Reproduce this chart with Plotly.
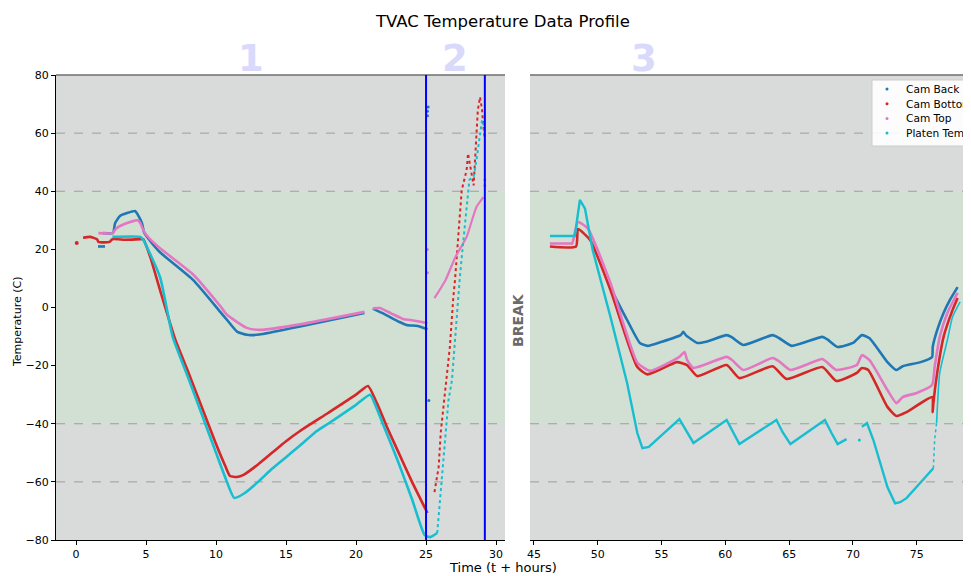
import plotly.graph_objects as go

# ---------------- data ----------------
series_names = ["Cam Back", "Cam Bottom", "Cam Top", "Platen Temp"]
series_colors = ["#1f77b4", "#d62728", "#e377c2", "#17becf"]
phase_labels = ["1", "2", "3"]
phase_label_x = [12.5, 27.1, 53.6]
phase_boundaries = [25.0, 29.2]
band_limits = [-40, 40]
dashed_levels = [60, 40, -40, -60]
left_ticks = [0, 5, 10, 15, 20, 25, 30]
right_ticks = [45, 50, 55, 60, 65, 70, 75]
y_ticks = [-80, -60, -40, -20, 0, 20, 40, 60, 80]

# Cam Back (left segment, hours 0-31)
back_left_x = [1.57, 2.07, None, 1.93, 2.64, 2.79, 3.14, 3.64, 4.21, 4.43, 4.71, 4.85, 5.2, 6.0, 8.36,
               10.3, 10.79, 11.5, 12.2, 13.1, 16.0, 20.6, None, 21.2, 22.0, 23.1, 23.6, 24.4, 25.1]
back_left_y = [21, 21, None, 25.6, 25.6, 29, 31.5, 32.5, 33.2, 31.8, 29, 26, 23.5, 19, 9.5,
               -1.5, -4.3, -8.3, -9.4, -9.3, -6.5, -1.9, None, -0.4, -2.2, -5, -6, -6.4, -7.5]
back_pts_x = [25.1, 25.1, 25.15, 25.2]
back_pts_y = [66, 67.5, 69, -32]
# Cam Back (right segment)
back_right_x = [51.0, 52.3, 53.3, 53.9, 55.0, 56.5, 56.7, 56.9, 57.8, 58.5, 60.1, 60.5, 61.4, 63.7,
                64.2, 65.2, 67.6, 68.0, 68.8, 70.0, 70.7, 71.3, 72.7, 73.4, 73.9, 75.3, 76.2, 76.25,
                76.6, 77.1, 77.6, 78.2]
back_right_y = [6.7, -4.3, -12.2, -13.2, -11.8, -9.5, -8.4, -9.5, -12.2, -11.8, -9.5, -10.2, -12.9, -9.5,
                -10.5, -13.2, -10.1, -11, -13.6, -12.2, -9.5, -10.6, -18.8, -21.5, -20.2, -18.8, -17, -13.6,
                -7.8, -1.9, 2.6, 7]

# Cam Bottom
bottom_pts_x = [0.05]
bottom_pts_y = [22.2]
bottom_left_x = [0.5, 1.0, 1.5, 1.6, 2.0, 2.4, 2.6, 3.5, 4.6, 4.8, 5.3, 6.0, 7.1, 8.0, 9.0, 10.0, 10.7,
                 11.0, 11.5, 12.0, 13.0, 14.0, 15.0, 16.0, 18.0, 20.0, 20.85, 21.5, 22.2, 23.0, 24.0, 25.1]
bottom_left_y = [24, 24.3, 23.5, 22.6, 22.4, 22.6, 23.5, 23.3, 23.5, 23.5, 17.4, 6, -11.2, -22, -34.5, -47,
                 -55, -58, -58.3, -57.5, -54, -50, -46, -42.5, -36.3, -30, -27, -33, -41, -49.5, -60, -70.7]
bottom_ramp_x = [25.6, 25.9, 26.05, 26.45, 26.7, 26.95, 27.07, 27.55, 27.9, 28.0, 28.3, 28.4, 28.5,
                 28.7, 28.86, 29.0, 29.1, 29.2]
bottom_ramp_y = [-63.5, -55, -43, -25, -13.6, 3.6, 9.5, 40.4, 47.3, 53, 44, 42, 50.7, 68, 72.4, 68, 62, 58]
bottom_right_x = [46.25, 48.3, 48.45, 49.4, 51.0, 53.1, 53.9, 56.2, 57.0, 57.8, 60.1, 61.1, 63.7, 64.8,
                  67.6, 68.7, 70.3, 70.7, 71.2, 72.7, 73.4, 74.2, 76.2, 76.25, 76.3, 76.6, 77.1, 77.8, 78.2]
bottom_right_y = [21, 21, 27, 23.2, 6, -20.5, -23, -18.8, -19.8, -23.6, -19.8, -24.3, -20.2, -24.6,
                  -20.5, -25.3, -22.5, -20.8, -21.5, -34.2, -37.3, -36, -30.8, -36, -33, -22.5, -10.1, -0.9, 3.3]

# Cam Top
top_left_x = [1.6, 2.6, 2.9, 3.6, 4.4, 4.6, 4.85, 5.2, 6.0, 8.4, 10.3, 10.8, 12.2, 13.1, 16.0, 20.6, None,
              21.2, 21.7, 22.5, 23.4, 23.9, 24.5, 25.1]
top_left_y = [25.6, 25.6, 27.3, 29, 30, 29, 26.2, 24, 20.4, 11.2, 0.5, -2.6, -7, -7.7, -5.8, -1.5, None,
              -0.3, -0.2, -2, -4, -4.3, -4.8, -5.4]
top_ramp_x = [25.6, 26.4, 27.1, 27.9, 28.6, 29.1]
top_ramp_y = [3.2, 9.5, 17.4, 24.3, 34.6, 38]
top_pts_x = [25.1, 25.1, 29.2, 29.2]
top_pts_y = [12, 20, 42, 44]
top_right_x = [46.25, 47.9, 48.0, 48.45, 49.2, 51.0, 53.1, 54.1, 56.4, 56.8, 57.0, 57.5, 60.1, 60.5,
               61.4, 63.7, 64.2, 65.1, 67.6, 68.0, 68.7, 70.3, 70.7, 71.3, 72.7, 73.4, 73.9, 75.0,
               76.2, 76.4, 76.8, 77.4, 78.2]
top_right_y = [22, 22, 22, 29.4, 27.3, 8.4, -19, -21.8, -17, -15.3, -18, -20.8, -17, -18,
               -21.5, -17.4, -18.5, -21.5, -17.7, -19, -21.5, -19.8, -16.4, -18.1, -28.4, -32.9, -30.8, -29.4,
               -26.7, -20.5, -10.1, -1.9, 5]

# Platen Temp
platen_left_x = [2.6, 4.6, 4.8, 6.0, 6.9, 8.0, 9.0, 10.0, 10.7, 11.3, 12.0, 13.0, 14.0, 15.0, 16.0,
                 17.2, 18.0, 19.0, 20.0, 21.0, 21.5, 22.0, 23.0, 24.0, 24.9, 25.3, 25.8]
platen_left_y = [24.3, 24.3, 23.3, 10.5, -10, -24, -37, -50, -59, -65.5, -64, -60, -55.5, -51.5, -47.5,
                 -42.5, -40, -36.8, -33.5, -30, -35, -41, -53, -66, -78.3, -79, -77.6]
platen_ramp_x = [25.8, 26.0, 26.2, 26.4, 26.6, 26.85, 27.2, 27.4, 27.6, 27.9, 28.1, 28.4, 28.6, 29.0, 29.1, 29.2]
platen_ramp_y = [-77.6, -66, -55, -43, -32, -25, -2, 9.5, 19.8, 33.5, 44, 45, 50.7, 64.5, 63.5, 58.7]
platen_right_x = [46.25, 48.2, 48.6, 49.0, 49.6, 51.0, 52.3, 53.1, 53.5, 54.0, 56.4, 57.0, 57.5, 60.1,
                  60.6, 61.1, 64.0, 64.5, 65.1, 67.8, 68.3, 68.8, 69.5, None, 70.7, 71.1, 71.6, 72.7,
                  73.3, 73.7, 74.2, 76.3]
platen_right_y = [24.6, 24.6, 37, 34, 19.8, -3.3, -26, -43.2, -48.4, -48, -38.4, -43, -46.6, -38.7,
                  -43, -47, -38.7, -43, -47, -38.7, -43, -47, -45.3, None, -41, -39.8, -45.6, -61.8,
                  -67.4, -67, -65.6, -55.3]
platen_pts_x = [70.5]
platen_pts_y = [-45.6]
platen_ramp2_x = [76.3, 76.4, 76.55]
platen_ramp2_y = [-55.3, -45.6, -39.8]
platen_rise_x = [76.55, 76.8, 77.4, 77.8, 78.4]
platen_rise_y = [-39.8, -22.5, -11.2, -3.3, 1.9]

# ---------------- figure ----------------
# the page body has an 8px margin, so the figure is drawn 8px in from the window corner
OFF = 8
W, H = 971 - OFF, 576 - OFF
FONT = "DejaVu Sans"


def PX(p):
    return (p - OFF) / W


def PY(p):
    return 1 - (p - OFF) / H


fig = go.Figure()
C = dict(zip(series_names, series_colors))


def line(x, y, color, axis, width=2.6, dash=None, smooth=True):
    ln = dict(color=color, width=width, dash=dash)
    if smooth:
        ln.update(shape="spline", smoothing=0.5)
    fig.add_trace(go.Scatter(x=x, y=y, mode="lines", xaxis=axis[0], yaxis=axis[1], line=ln,
                             showlegend=False, hoverinfo="skip", connectgaps=False))


def pts(x, y, color, axis, size=3):
    fig.add_trace(go.Scatter(x=x, y=y, mode="markers", xaxis=axis[0], yaxis=axis[1],
                             marker=dict(color=color, size=size), showlegend=False, hoverinfo="skip"))


L = ("x", "y")
R = ("x3", "y3")

# Cam Back
line(back_left_x, back_left_y, C["Cam Back"], L)
pts(back_pts_x, back_pts_y, C["Cam Back"], L)
line(back_right_x, back_right_y, C["Cam Back"], R)
# Cam Bottom
pts(bottom_pts_x, bottom_pts_y, C["Cam Bottom"], L, 4)
line(bottom_left_x, bottom_left_y, C["Cam Bottom"], L)
line(bottom_ramp_x, bottom_ramp_y, C["Cam Bottom"], L, 2, "dot", False)
line(bottom_right_x, bottom_right_y, C["Cam Bottom"], R)
# Cam Top
line(top_left_x, top_left_y, C["Cam Top"], L)
line(top_ramp_x, top_ramp_y, C["Cam Top"], L, 2.2)
pts(top_pts_x, top_pts_y, C["Cam Top"], L)
line(top_right_x, top_right_y, C["Cam Top"], R)
# Platen
line(platen_left_x, platen_left_y, C["Platen Temp"], L)
line(platen_ramp_x, platen_ramp_y, C["Platen Temp"], L, 2, "dot", False)
line(platen_right_x, platen_right_y, C["Platen Temp"], R, 2.4, None, False)
pts(platen_pts_x, platen_pts_y, C["Platen Temp"], R)
line(platen_ramp2_x, platen_ramp2_y, C["Platen Temp"], R, 1.5, "dot", False)
line(platen_rise_x, platen_rise_y, C["Platen Temp"], R, 1.6)

shapes = []
for xr, yr in (("x domain", "y"), ("x3 domain", "y3")):
    shapes.append(dict(type="rect", xref=xr, yref=yr, x0=0, x1=1, y0=band_limits[0], y1=band_limits[1],
                       fillcolor="#d2e0d4", line=dict(width=0), layer="below"))
    for lv in dashed_levels:
        shapes.append(dict(type="line", xref=xr, yref=yr, x0=0, x1=1, y0=lv, y1=lv,
                           line=dict(color="#9e9e9e", width=1, dash="dash"), layer="below"))
    shapes.append(dict(type="line", xref=xr, yref=yr + " domain",
                       x0=0, x1=1, y0=1, y1=1, line=dict(color="#6e6e6e", width=1.5)))
for b in phase_boundaries:
    shapes.append(dict(type="line", xref="x", yref="y domain", x0=b, x1=b, y0=0, y1=1,
                       line=dict(color="blue", width=2), layer="above"))

# legend box (matplotlib style, runs off the right edge like the original)
leg_top, leg_bot, leg_left = 80, 146, 872
shapes.append(dict(type="rect", xref="paper", yref="paper", x0=PX(leg_left), x1=PX(leg_left + 120),
                   y0=PY(leg_bot), y1=PY(leg_top), fillcolor="rgba(255,255,255,0.9)",
                   line=dict(color="#cccccc", width=1), layer="above"))

ytop = PY(75)
ybot = PY(540)


def txt(text, x, y, size, color="black", angle=0, xref="paper", xanchor="center"):
    return dict(text=text, x=x, y=y, xref=xref, yref="paper", xanchor=xanchor, yanchor="middle",
                textangle=angle, showarrow=False, font=dict(size=size, color=color, family=FONT))


annotations = [
    txt("TVAC Temperature Data Profile", PX(502), PY(22), 16.5),
    txt("Time (t + hours)", PX(503), PY(567), 13),
    txt("Temperature (C)", PX(17), PY(322), 11, angle=-90),
    txt("<b>BREAK</b>", PX(518), PY(320), 14, color="#6a6a6a", angle=-90),
]
for lab, lx, xr in zip(phase_labels, phase_label_x, ["x", "x", "x3"]):
    annotations.append(txt("<b>" + lab + "</b>", lx, PY(58), 37, color="#d9d9fb", xref=xr))
for i, (n, c) in enumerate(zip(series_names, series_colors)):
    yy = 89 + i * 14.7
    shapes.append(dict(type="circle", xref="paper", yref="paper", x0=PX(885.5), x1=PX(888.5),
                       y0=PY(yy + 1.5), y1=PY(yy - 1.5), fillcolor=c, line=dict(width=0), layer="above"))
    annotations.append(txt(n, PX(904), PY(yy), 10.6, xanchor="left"))

axis_common = dict(showgrid=False, zeroline=False, ticks="outside", ticklen=4, tickcolor="black",
                   tickfont=dict(size=11, family=FONT, color="black"))

fig.update_layout(
    width=W, height=H, margin=dict(l=0, r=0, t=0, b=0, autoexpand=False),
    paper_bgcolor="white", plot_bgcolor="#d9dada",
    font=dict(family=FONT, color="black"),
    xaxis=dict(domain=[PX(56), PX(505)], range=[-1.43, 30.64], tickvals=left_ticks, anchor="y",
               showline=True, linecolor="black", linewidth=1, automargin=False, **axis_common),
    yaxis=dict(domain=[ybot, ytop], range=[-80, 80], tickvals=y_ticks, anchor="x",
               showline=True, linecolor="black", linewidth=1, automargin=False, **axis_common),
    xaxis2=dict(domain=[PX(511), PX(525)], range=[0, 1], anchor="y2", showticklabels=False,
                showgrid=False, zeroline=False, ticks="", showline=True, mirror=True,
                linecolor="#444", linewidth=1.2),
    yaxis2=dict(domain=[ybot, ytop], range=[-80, 80], anchor="x2", showticklabels=False,
                showgrid=False, zeroline=False, ticks="", showline=True, mirror=True,
                linecolor="#444", linewidth=1.2),
    xaxis3=dict(domain=[PX(530), 1.0], range=[44.69, 79.25], tickvals=right_ticks, anchor="y3",
                showline=True, linecolor="black", linewidth=1, automargin=False, **axis_common),
    yaxis3=dict(domain=[ybot, ytop], range=[-80, 80], anchor="x3", showticklabels=False,
                showgrid=False, zeroline=False, ticks=""),
    shapes=shapes,
    annotations=annotations,
    showlegend=False,
)

fig.write_html("out.html")
